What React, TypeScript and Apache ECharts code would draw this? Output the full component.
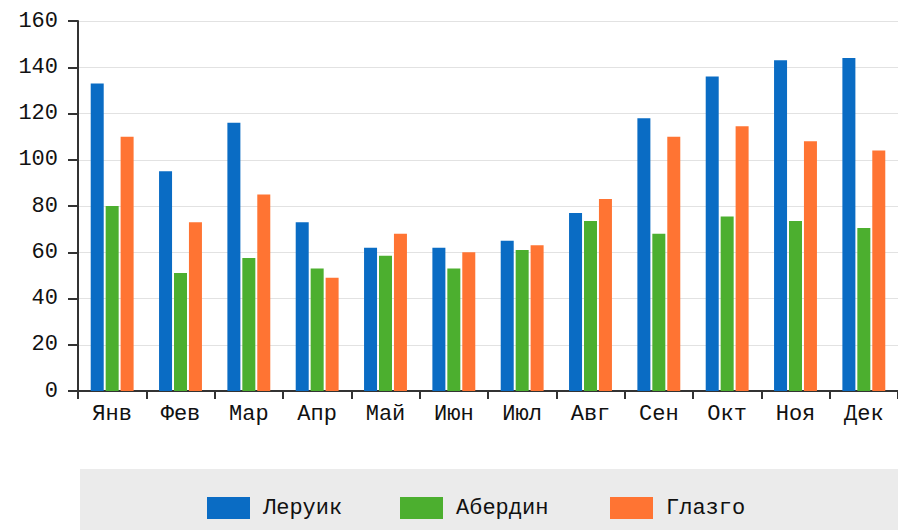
import React, { useEffect, useRef } from "react";
import * as echarts from "echarts";

const months = ["Янв", "Фев", "Мар", "Апр", "Май", "Июн", "Июл", "Авг", "Сен", "Окт", "Ноя", "Дек"];
const lerwick = [133, 95, 116, 73, 62, 62, 65, 77, 118, 136, 143, 144];
const aberdeen = [80, 51, 57.5, 53, 58.5, 53, 61, 73.5, 68, 75.5, 73.5, 70.5];
const glasgow = [110, 73, 85, 49, 68, 60, 63, 83, 110, 114.5, 108, 104];
const seriesNames = ["Леруик", "Абердин", "Глазго"];
const colors = ["#0a6cc4", "#4caf2f", "#ff7433"];
const legendLefts = [202, 395, 605];

const FONT = "'Liberation Mono', 'DejaVu Sans Mono', monospace";

export default function App() {
  const ref = useRef<HTMLDivElement>(null);
  useEffect(() => {
    if (!ref.current) return;
    const chart = echarts.init(ref.current, null, { renderer: "svg" });
    const values = [lerwick, aberdeen, glasgow];
    chart.setOption({
      animation: false,
      backgroundColor: "#ffffff",
      grid: { left: 78, right: 0, top: 21, bottom: 139, containLabel: false },
      graphic: [
        {
          type: "rect",
          z: -10,
          shape: { x: 80, y: 469, width: 818, height: 61 },
          style: { fill: "#ebebeb" },
          silent: true,
        },
      ],
      legend: seriesNames.map((n, i) => ({
        data: [n],
        left: legendLefts[i],
        top: 492,
        itemWidth: 43,
        itemHeight: 22,
        itemGap: 0,
        icon: "rect",
        textStyle: { fontFamily: FONT, fontSize: 22, color: "#111", padding: [0, 0, 0, 8] },
      })),
      xAxis: {
        type: "category",
        data: months,
        boundaryGap: true,
        axisLine: { lineStyle: { color: "#333", width: 2 } },
        axisTick: { show: true, length: 8, lineStyle: { color: "#333", width: 2 } },
        axisLabel: { fontFamily: FONT, fontSize: 22, color: "#111", margin: 12, interval: 0 },
        splitLine: { show: false },
      },
      yAxis: {
        type: "value",
        min: 0,
        max: 160,
        interval: 20,
        axisLine: { show: true, lineStyle: { color: "#333", width: 2 } },
        axisTick: { show: true, length: 10, lineStyle: { color: "#333", width: 2 } },
        axisLabel: { fontFamily: FONT, fontSize: 22, color: "#111", margin: 20 },
        splitLine: { show: true, lineStyle: { color: "#e2e2e2", width: 1 } },
      },
      series: seriesNames.map((n, i) => ({
        name: n,
        type: "bar",
        data: values[i],
        barWidth: 13,
        barGap: "15%",
        itemStyle: { color: colors[i] },
      })),
    });
    return () => chart.dispose();
  }, []);
  return (
    <div
      ref={ref}
      style={{ position: "absolute", left: 0, top: 0, width: 898, height: 530 }}
    />
  );
}
